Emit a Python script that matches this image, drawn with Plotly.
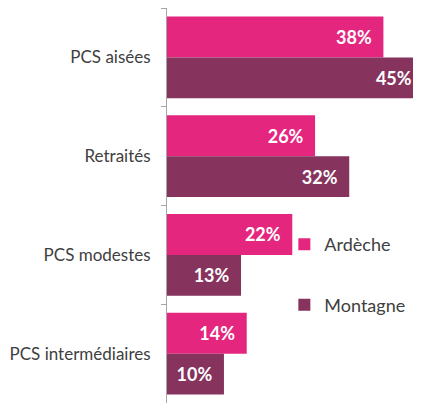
import plotly.graph_objects as go

categories = ["PCS aisées", "Retraités", "PCS modestes", "PCS intermédiaires"]
ardeche = [38, 26, 22, 14]
montagne = [45, 32, 13, 10]
series_names = ["Ardèche", "Montagne"]
colors = ["#E5267F", "#86335E"]

fig = go.Figure()
for name, vals, col in zip(series_names, [ardeche, montagne], colors):
    fig.add_trace(go.Bar(
        y=categories, x=vals, orientation="h", name=name,
        marker=dict(color=col, line=dict(width=0)),
        text=[f"{v}%\u00a0\u00a0" for v in vals],
        textposition="inside", insidetextanchor="end",
        textfont=dict(family="Lato", size=18, color="white", weight="bold"),
        legendgroup=name,
    ))

# the page body adds an 8px margin, so the figure is sized to fit inside it
fig.update_layout(
    width=413, height=395,
    margin=dict(l=159, r=0, t=0, b=0, autoexpand=False),
    paper_bgcolor="white", plot_bgcolor="white",
    barmode="group", bargap=0.17, bargroupgap=0,
    font=dict(family="Lato", size=17, color="#404040"),
    showlegend=True,
    legend=dict(x=0.462, y=0.448, xanchor="left", yanchor="top",
                tracegroupgap=34, traceorder="grouped",
                font=dict(family="Lato", size=18, color="#404040"),
                bgcolor="rgba(0,0,0,0)"),
)
fig.update_xaxes(range=[0, 44.6], visible=False, showgrid=False, zeroline=False)
fig.update_yaxes(autorange="reversed", showline=True, linecolor="#A6A6A6", linewidth=1,
                 ticks="outside", ticklen=5, tickcolor="#A6A6A6", tickson="boundaries",
                 ticklabelstandoff=12, showgrid=False, automargin=False,
                 tickfont=dict(family="Lato", size=17, color="#404040"))

fig.write_html("out.html")
